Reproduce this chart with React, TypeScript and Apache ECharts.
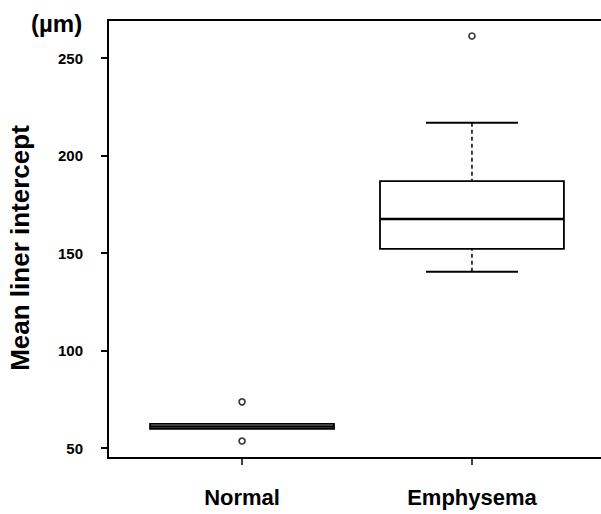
import React, { useEffect, useRef } from "react";
import * as echarts from "echarts";

const categories = ["Normal", "Emphysema"];
const lowerWhisker = [60.0, 140.4];
const q1 = [59.9, 152.1];
const median = [61.0, 167.4];
const q3 = [62.4, 186.9];
const upperWhisker = [62.4, 216.8];
const outliersNormal = [73.7, 53.6];
const outliersEmphysema = [261.3];
const yTicks = [50, 100, 150, 200, 250];
const yTitle = "Mean liner intercept";
const unitLabel = "(µm)";

const FONT = "'Liberation Sans', Arial, Helvetica, sans-serif";

export default function App() {
  const ref = useRef<HTMLDivElement>(null);
  useEffect(() => {
    if (!ref.current) return;
    const chart = echarts.init(ref.current, null, { renderer: "svg" });
    const boxData = categories.map((_, i) => [
      i + 1,
      lowerWhisker[i],
      q1[i],
      median[i],
      q3[i],
      upperWhisker[i],
    ]);
    const outlierData: number[][] = [];
    outliersNormal.forEach((v) => outlierData.push([1, v]));
    outliersEmphysema.forEach((v) => outlierData.push([2, v]));

    const renderItem = (params: any, api: any) => {
      const x = api.value(0);
      const lo = api.value(1);
      const a = api.value(2);
      const m = api.value(3);
      const b = api.value(4);
      const hi = api.value(5);
      const boxHalf = 0.4;
      const capHalf = 0.2;
      const pL = api.coord([x - boxHalf, b]);
      const pR = api.coord([x + boxHalf, a]);
      const cL = api.coord([x - capHalf, hi]);
      const cR = api.coord([x + capHalf, hi]);
      const dL = api.coord([x - capHalf, lo]);
      const dR = api.coord([x + capHalf, lo]);
      const c = api.coord([x, m]);
      const pa = api.coord([x, a]);
      const pb = api.coord([x, b]);
      const ph = api.coord([x, hi]);
      const pl = api.coord([x, lo]);
      const black = "#000";
      const children: any[] = [];
      if (hi > b) {
        children.push({
          type: "line",
          shape: { x1: ph[0], y1: ph[1], x2: pb[0], y2: pb[1] },
          style: { stroke: black, lineWidth: 1.5, lineDash: [4, 3] },
        });
        children.push({
          type: "line",
          shape: { x1: cL[0], y1: cL[1], x2: cR[0], y2: cR[1] },
          style: { stroke: black, lineWidth: 2 },
        });
      }
      if (lo < a) {
        children.push({
          type: "line",
          shape: { x1: pl[0], y1: pl[1], x2: pa[0], y2: pa[1] },
          style: { stroke: black, lineWidth: 1.5, lineDash: [4, 3] },
        });
        children.push({
          type: "line",
          shape: { x1: dL[0], y1: dL[1], x2: dR[0], y2: dR[1] },
          style: { stroke: black, lineWidth: 2 },
        });
      }
      children.push({
        type: "rect",
        shape: { x: pL[0], y: pL[1], width: pR[0] - pL[0], height: pR[1] - pL[1] },
        style: { fill: "#fff", stroke: black, lineWidth: 1.8 },
      });
      children.push({
        type: "line",
        shape: { x1: pL[0], y1: c[1], x2: pR[0], y2: c[1] },
        style: { stroke: black, lineWidth: 2.5 },
      });
      return { type: "group", children };
    };

    chart.setOption({
      animation: false,
      backgroundColor: "#fff",
      textStyle: { fontFamily: FONT },
      grid: {
        left: 108,
        top: 20,
        width: 498,
        height: 438,
        show: true,
        borderColor: "#000",
        borderWidth: 2,
        containLabel: false,
        outerBoundsMode: "none",
      },
      xAxis: {
        type: "value",
        min: 0.417,
        max: 2.583,
        axisLine: { show: true, lineStyle: { color: "#000", width: 2 } },
        axisTick: {
          show: true,
          length: 7,
          customValues: [1, 2],
          lineStyle: { color: "#000", width: 1.5 },
        },
        axisLabel: {
          customValues: [1, 2],
          formatter: (v: number) => categories[Math.round(v) - 1] || "",
          color: "#000",
          fontFamily: FONT,
          fontWeight: "bold",
          fontSize: 22,
          margin: 28,
        },
        splitLine: { show: false },
      },
      yAxis: {
        type: "value",
        min: 44.9,
        max: 269.5,
        axisLine: { show: true, lineStyle: { color: "#000", width: 2 } },
        axisTick: {
          show: true,
          length: 7,
          customValues: yTicks,
          lineStyle: { color: "#000", width: 2 },
        },
        axisLabel: {
          customValues: yTicks,
          color: "#000",
          fontFamily: FONT,
          fontWeight: "bold",
          fontSize: 15,
          margin: 25,
        },
        splitLine: { show: false },
      },
      graphic: [
        {
          type: "text",
          left: 31,
          top: 11,
          style: {
            text: unitLabel,
            fill: "#000",
            font: `bold 24px ${FONT}`,
          },
        },
        {
          type: "text",
          x: 20,
          y: 248,
          rotation: Math.PI / 2,
          style: {
            text: yTitle,
            fill: "#000",
            font: `bold 26px ${FONT}`,
            align: "center",
            verticalAlign: "middle",
          },
        },
      ],
      series: [
        {
          type: "custom",
          renderItem,
          data: boxData,
          encode: { x: 0, y: [1, 2, 3, 4, 5] },
          z: 2,
        },
        {
          type: "scatter",
          data: outlierData,
          symbol: "circle",
          symbolSize: 6,
          itemStyle: { color: "#fff", borderColor: "#000", borderWidth: 1.6 },
          z: 3,
        },
      ],
    });
    return () => chart.dispose();
  }, []);
  return (
    <div
      ref={ref}
      style={{ position: "fixed", left: 0, top: 0, width: 601, height: 514 }}
    />
  );
}
